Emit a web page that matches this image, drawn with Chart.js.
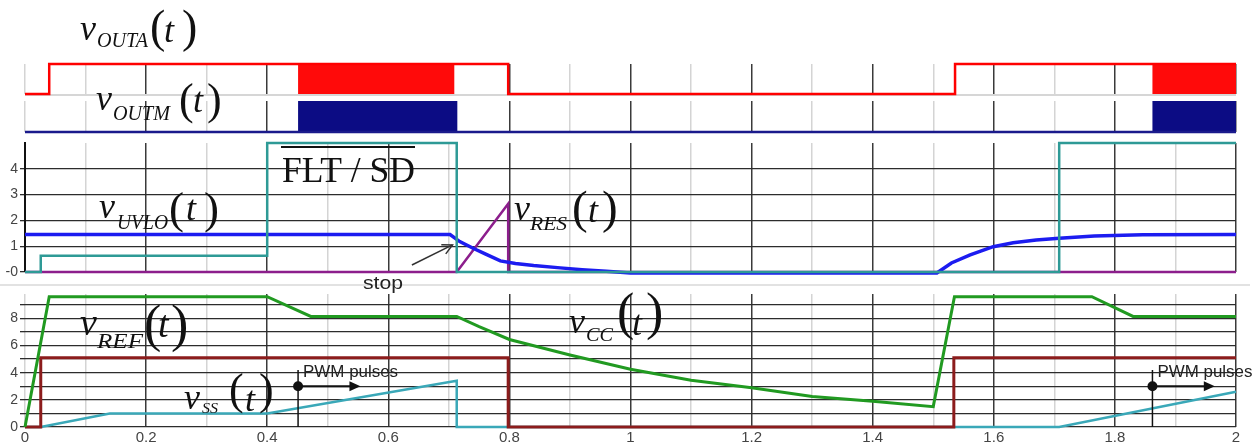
<!DOCTYPE html>
<html>
<head>
<meta charset="utf-8">
<script src="https://cdn.jsdelivr.net/npm/chart.js@4.4.1/dist/chart.umd.min.js"></script>
<style>
  html, body { margin: 0; padding: 0; background: #fff; }
  #wrap { position: relative; width: 1259px; height: 446px; overflow: hidden; }
  #wrap canvas { position: absolute; left: 0; top: 0; }
</style>
</head>
<body>
<div id="wrap">
  <canvas id="outA" width="1259" height="446"></canvas>
  <canvas id="outM" width="1259" height="446"></canvas>
  <canvas id="mid" width="1259" height="446"></canvas>
  <canvas id="bot" width="1259" height="446"></canvas>
</div>
<script>
// time in seconds (0..2), values in volts (top strips: 0 low / 1 high)
var outaT = [0, 0.04, 0.04, 0.798, 0.798, 1.536, 1.536, 2];
var outaV = [0, 0, 1, 1, 0, 0, 1, 1];
var outmT = [0, 2];
var outmV = [0, 0];

// PWM bursts
var pwmAStart = [0.451, 1.862];
var pwmAEnd = [0.709, 2];
var pwmMStart = [0.451, 1.862];
var pwmMEnd = [0.714, 2];

// middle panel
var fltT = [0, 0.026, 0.026, 0.4, 0.4, 0.713, 0.713, 1.708, 1.708, 2];
var fltV = [0, 0, 0.63, 0.63, 5, 5, 0, 0, 5, 5];
var uvloT = [0, 0.702, 0.718, 0.74, 0.76, 0.785, 0.81, 0.84, 0.884, 0.92, 0.96, 1.0, 1.506, 1.53, 1.561, 1.599, 1.632, 1.67, 1.708, 1.766, 1.846, 2];
var uvloV = [1.45, 1.45, 1.18, 0.92, 0.7, 0.43, 0.33, 0.25, 0.16, 0.09, 0.03, -0.04, -0.04, 0.35, 0.66, 0.98, 1.13, 1.24, 1.31, 1.4, 1.44, 1.45];
var resT = [0, 0.713, 0.798, 0.798, 2];
var resV = [0, 0, 2.65, 0, 0];

// bottom panel
var vccT = [0, 0.04, 0.4, 0.472, 0.713, 0.75, 0.8, 0.9, 1.0, 1.1, 1.2, 1.3, 1.4, 1.5, 1.535, 1.762, 1.83, 2];
var vccV = [0, 9.6, 9.6, 8.15, 8.15, 7.4, 6.45, 5.3, 4.25, 3.45, 2.9, 2.25, 1.9, 1.5, 9.6, 9.6, 8.15, 8.15];
var refT = [0, 0.026, 0.026, 0.798, 0.798, 1.534, 1.534, 2];
var refV = [0, 0, 5.1, 5.1, 0, 0, 5.1, 5.1];
var ssT = [0, 0.026, 0.14, 0.4, 0.713, 0.713, 1.708, 2];
var ssV = [0, 0, 1.0, 1.0, 3.4, 0, 0, 2.6];

var SERIF = '"Liberation Serif", "Times New Roman", serif';
var SANS = '"Liberation Sans", Arial, sans-serif';

function pts(ts, vs) {
  return ts.map(function (t, i) { return { x: t, y: vs[i] }; });
}
function bursts(starts, ends) {
  var p = [];
  starts.forEach(function (s, i) {
    p.push({ x: s, y: 0 }, { x: s, y: 1 }, { x: ends[i], y: 1 }, { x: ends[i], y: 0 });
  });
  return p;
}
function trace(data, color, width) {
  return { data: data, borderColor: color, borderWidth: width, pointRadius: 0, tension: 0, fill: false, clip: 10 };
}

function timeAxis(withLabels, lightZero) {
  return {
    type: 'linear', min: 0, max: 2,
    border: { display: false },
    grid: {
      drawTicks: false,
      lineWidth: 1.5,
      color: function (c) {
        var k = Math.round(c.tick.value * 10);
        if (k % 2 !== 0 || (k === 0 && lightZero)) return '#d4d4d4';
        return '#3a3a3a';
      }
    },
    ticks: {
      display: withLabels, stepSize: 0.1, autoSkip: false, maxRotation: 0, padding: 2,
      color: '#444', font: { family: SANS, size: 15 },
      callback: function (v) {
        var k = Math.round(v * 10);
        return k % 2 === 0 ? String(k / 10) : '';
      }
    },
    afterFit: function (s) { s.height = withLabels ? 19 : 0; }
  };
}

function fitText(ctx, str, x, y, w) {
  var m = ctx.measureText(str).width;
  ctx.save();
  ctx.translate(x, y);
  if (w) ctx.scale(w / m, 1);
  ctx.fillText(str, 0, 0);
  ctx.restore();
}

// v_sub(t) labels
function signalLabel(ctx, L) {
  ctx.fillStyle = '#111';
  ctx.textAlign = 'left';
  ctx.textBaseline = 'alphabetic';
  ctx.font = 'italic ' + L.v[2] + 'px ' + SERIF;
  ctx.fillText('v', L.v[0], L.v[1]);
  ctx.font = 'italic ' + L.s[2] + 'px ' + SERIF;
  fitText(ctx, L.sub, L.s[0], L.s[1], L.s[3]);
  ctx.font = L.p[2] + 'px ' + SERIF;
  var pb = L.p[1] - 0.215 * L.p[2];
  ctx.fillText('(', L.p[0], pb);
  ctx.fillText(')', L.c, pb);
  ctx.font = 'italic ' + L.v[2] + 'px ' + SERIF;
  ctx.fillText('t', L.t, L.v[1] + 2);
}

function arrowHead(ctx, x1, y1, x2, y2, len, half, filled) {
  var a = Math.atan2(y2 - y1, x2 - x1);
  var bx = x2 - len * Math.cos(a), by = y2 - len * Math.sin(a);
  var nx = -Math.sin(a) * half, ny = Math.cos(a) * half;
  ctx.beginPath();
  ctx.moveTo(bx + nx, by + ny);
  ctx.lineTo(x2, y2);
  ctx.lineTo(bx - nx, by - ny);
  if (filled) { ctx.closePath(); ctx.fill(); } else { ctx.stroke(); }
}

function baseOptions(pad, yScale, withLabels, lightZero) {
  return {
    responsive: false,
    animation: false,
    devicePixelRatio: 1,
    events: [],
    layout: { padding: pad },
    plugins: { legend: { display: false }, tooltip: { enabled: false } },
    scales: { x: timeAxis(withLabels, lightZero), y: yScale }
  };
}

// top strip: vOUTA
new Chart('outA', {
  type: 'line',
  data: {
    datasets: [
      trace(pts(outaT, outaV), '#ff0000', 2.5),
      Object.assign(trace(bursts(pwmAStart, pwmAEnd), '#ff0000', 0), { fill: 'origin', backgroundColor: '#ff0a0a' })
    ]
  },
  options: baseOptions({ top: 64, bottom: 352, left: 25, right: 23 }, { display: false, min: 0, max: 1 }, false, true),
  plugins: [{
    id: 'baseA',
    beforeDatasetsDraw: function (chart) {
      var ctx = chart.ctx, a = chart.chartArea, y0 = chart.scales.y.getPixelForValue(0);
      ctx.save();
      ctx.fillStyle = '#d6d6d6';
      ctx.fillRect(a.left, y0, a.right - a.left, 2);
      ctx.restore();
    }
  }]
});

// second strip: vOUTM
new Chart('outM', {
  type: 'line',
  data: {
    datasets: [
      trace(pts(outmT, outmV), '#1a1a8c', 2.5),
      Object.assign(trace(bursts(pwmMStart, pwmMEnd), '#0c0c84', 0), { fill: 'origin', backgroundColor: '#0c0c84' })
    ]
  },
  options: baseOptions({ top: 101, bottom: 314, left: 25, right: 23 }, { display: false, min: 0, max: 1 }, false, true)
});

// middle panel: FLT/SD, vUVLO, vRES
new Chart('mid', {
  type: 'line',
  data: {
    datasets: [
      trace(pts(fltT, fltV), '#2e9a96', 2.5),
      trace(pts(uvloT, uvloV), '#1c1cf0', 3.5),
      trace(pts(resT, resV), '#8c1e8c', 2.5)
    ]
  },
  options: baseOptions({ top: 143, bottom: 174, left: 0, right: 23 }, {
    min: 0, max: 5,
    border: { display: true, color: '#111', width: 2 },
    grid: {
      tickLength: 5, lineWidth: 1.3,
      color: function (c) { return c.tick.value === 5 ? 'rgba(0,0,0,0)' : '#2c2c2c'; }
    },
    ticks: {
      stepSize: 1, autoSkip: false, padding: 2, color: '#444',
      font: { family: SANS, size: 14 },
      callback: function (v) { return v === 5 ? '' : (v === 0 ? '-0' : String(v)); }
    },
    afterFit: function (s) { s.width = 25; }
  }, false, false),
  plugins: [{
    id: 'notesMid',
    afterDraw: function (chart) {
      var ctx = chart.ctx, xs = chart.scales.x, ys = chart.scales.y;
      ctx.save();
      // separator strip between panels
      ctx.fillStyle = '#e2e2e2';
      ctx.fillRect(0, 284, 1250, 2);
      // FLT / SD with overline
      ctx.fillStyle = '#111';
      ctx.textBaseline = 'alphabetic';
      ctx.font = '36px ' + SERIF;
      fitText(ctx, 'FLT / SD', 282, 182, 133);
      ctx.fillRect(281, 146, 134, 2);
      // stop arrow
      var x1 = xs.getPixelForValue(0.639), y1 = ys.getPixelForValue(0.27);
      var x2 = xs.getPixelForValue(0.706), y2 = ys.getPixelForValue(1.05);
      ctx.strokeStyle = '#333';
      ctx.lineWidth = 1.5;
      ctx.beginPath(); ctx.moveTo(x1, y1); ctx.lineTo(x2, y2); ctx.stroke();
      arrowHead(ctx, x1, y1, x2, y2, 10, 5, false);
      ctx.fillStyle = '#222';
      ctx.font = '18px ' + SANS;
      fitText(ctx, 'stop', 363, 289, 40);
      signalLabel(ctx, { sub: 'UVLO', v: [99, 218, 36], s: [117, 229, 22, 51], p: [169, 233, 45], t: 186, c: 204 });
      signalLabel(ctx, { sub: 'RES', v: [514, 220, 36], s: [530, 230, 18, 37], p: [572, 233, 47], t: 588, c: 602 });
      ctx.restore();
    }
  }]
});

// bottom panel: vCC, vREF, vSS
new Chart('bot', {
  type: 'line',
  data: {
    datasets: [
      trace(pts(vccT, vccV), '#219a21', 3),
      trace(pts(refT, refV), '#8c1c1c', 3),
      trace(pts(ssT, ssV), '#3aa8b8', 2.5)
    ]
  },
  options: baseOptions({ top: 294, bottom: 0, left: 0, right: 23 }, {
    min: 0, max: 9.8,
    border: { display: false },
    grid: { tickLength: 5, lineWidth: 1.3, color: '#2c2c2c' },
    ticks: {
      stepSize: 1, includeBounds: false, autoSkip: false, padding: 2, color: '#444',
      font: { family: SANS, size: 14 },
      callback: function (v) { return v % 2 === 0 ? String(v) : ''; }
    },
    afterFit: function (s) { s.width = 25; }
  }, true, true),
  plugins: [{
    id: 'notesBot',
    afterDraw: function (chart) {
      var ctx = chart.ctx, xs = chart.scales.x, ys = chart.scales.y;
      ctx.save();
      // PWM start markers
      pwmAStart.forEach(function (t) {
        var px = xs.getPixelForValue(t), py = ys.getPixelForValue(3);
        ctx.strokeStyle = '#111';
        ctx.fillStyle = '#111';
        ctx.lineWidth = 1.5;
        ctx.beginPath();
        ctx.moveTo(px, ys.getPixelForValue(4.2));
        ctx.lineTo(px, ys.getPixelForValue(0));
        ctx.stroke();
        var ex = xs.getPixelForValue(t + 0.103);
        ctx.lineWidth = 2;
        ctx.beginPath(); ctx.moveTo(px, py); ctx.lineTo(ex - 6, py); ctx.stroke();
        arrowHead(ctx, px, py, ex, py, 11, 5, true);
        ctx.beginPath(); ctx.arc(px, py, 5, 0, Math.PI * 2); ctx.fill();
        ctx.fillStyle = '#222';
        ctx.font = '16px ' + SANS;
        fitText(ctx, 'PWM pulses', px + 5, py - 9, 95);
      });
      // signal names for all panels
      signalLabel(ctx, { sub: 'OUTA', v: [80, 40, 36], s: [97, 47, 21, 51], p: [150, 52, 46], t: 164, c: 182 });
      signalLabel(ctx, { sub: 'OUTM', v: [96, 110, 36], s: [113, 120, 20, 57], p: [179, 123, 44], t: 193, c: 207 });
      signalLabel(ctx, { sub: 'REF', v: [80, 335, 38], s: [97, 348, 22, 46], p: [144, 352, 52], t: 158, c: 171 });
      signalLabel(ctx, { sub: 'SS', v: [184, 409, 36], s: [202, 413, 15, 16], p: [229, 413, 44], t: 245, c: 259 });
      signalLabel(ctx, { sub: 'CC', v: [569, 333, 36], s: [586, 341, 19, 27], p: [617, 340, 52], t: 632, c: 646 });
      ctx.restore();
    }
  }]
});
</script>
</body>
</html>
